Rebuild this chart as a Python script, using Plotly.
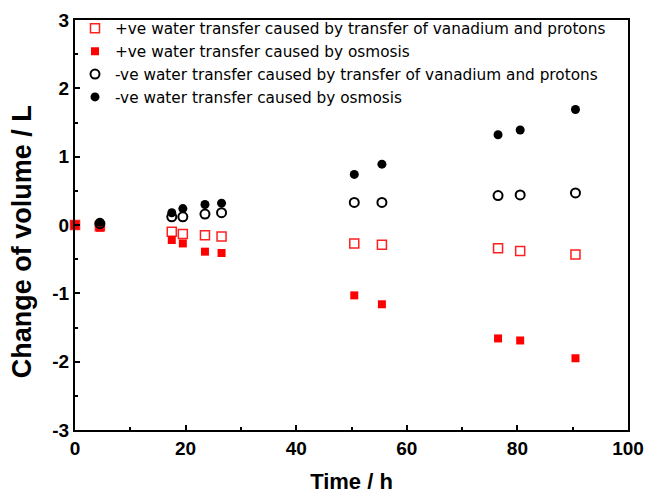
import plotly.graph_objects as go

# Sampling times (h)
t_square = [0, 4.5, 17.5, 19.5, 23.5, 26.5, 50.5, 55.5, 76.5, 80.5, 90.5]
t_circle = [4.5, 17.5, 19.5, 23.5, 26.5, 50.5, 55.5, 76.5, 80.5, 90.5]

# Change of volume (L)
pos_vanadium = [0, -0.02, -0.10, -0.13, -0.15, -0.17, -0.27, -0.29, -0.34, -0.38, -0.43]
pos_osmosis = [0, -0.04, -0.22, -0.27, -0.39, -0.41, -1.03, -1.16, -1.66, -1.69, -1.95]
neg_vanadium = [0.02, 0.12, 0.12, 0.16, 0.18, 0.33, 0.33, 0.43, 0.44, 0.47]
neg_osmosis = [0.04, 0.18, 0.24, 0.30, 0.32, 0.74, 0.89, 1.32, 1.39, 1.69]

# Axis ticks
x_ticks = [0, 20, 40, 60, 80, 100]
x_labels = ["0", "20", "40", "60", "80", "100"]
y_ticks = [-3, -2, -1, 0, 1, 2, 3]
y_labels = ["-3", "-2", "-1", "0", "1", "2", "3"]

names = [
    "+ve water transfer caused by transfer of vanadium and protons",
    "+ve water transfer caused by osmosis",
    "-ve water transfer caused by transfer of vanadium and protons",
    "-ve water transfer caused by osmosis",
]

fig = go.Figure()
fig.add_trace(go.Scatter(
    x=t_square, y=pos_vanadium, mode="markers", name=names[0], cliponaxis=False,
    marker=dict(symbol="square-open", size=9, color="#ff2020", line=dict(width=1.5, color="#ff2020")),
))
fig.add_trace(go.Scatter(
    x=t_square, y=pos_osmosis, mode="markers", name=names[1], cliponaxis=False,
    marker=dict(symbol="square", size=8, color="#ff0000"),
))
fig.add_trace(go.Scatter(
    x=t_circle, y=neg_vanadium, mode="markers", name=names[2], cliponaxis=False,
    marker=dict(symbol="circle-open", size=9, color="black", line=dict(width=2, color="black")),
))
fig.add_trace(go.Scatter(
    x=t_circle, y=neg_osmosis, mode="markers", name=names[3], cliponaxis=False,
    marker=dict(symbol="circle", size=9, color="black"),
))

axis_common = dict(
    showline=True, linecolor="black", linewidth=2, mirror=True,
    ticks="inside", ticklen=5, tickwidth=2, tickcolor="black",
    showgrid=False, zeroline=False, automargin=False,
    tickfont=dict(family="Liberation Sans, Arial", size=19, color="black", weight="bold"),
)

fig.update_layout(
    width=649, height=497,
    margin=dict(l=75, r=21, t=18, b=67),
    paper_bgcolor="white", plot_bgcolor="white",
    font=dict(family="Liberation Sans, Arial", color="black"),
    showlegend=True,
    legend=dict(
        x=0.0, y=1.02, xanchor="left", yanchor="top",
        bgcolor="rgba(0,0,0,0)", borderwidth=0,
        font=dict(family="DejaVu Sans", size=15.3, color="black"),
        tracegroupgap=0,
    ),
    annotations=[dict(
        text="<b>Change of volume / L</b>", textangle=-90,
        xref="paper", yref="paper", x=-0.096, y=0.46,
        xanchor="center", yanchor="middle", showarrow=False,
        font=dict(family="Liberation Sans, Arial", size=27, color="black"),
    )],
)
fig.update_xaxes(
    range=[0, 100], tickvals=x_ticks, ticktext=x_labels,
    minor=dict(ticks="inside", ticklen=3, tickwidth=2, tickcolor="black", dtick=10, tick0=0),
    title=dict(text="Time / h", standoff=16,
               font=dict(family="Liberation Sans, Arial", size=22, color="black", weight="bold")),
    **axis_common,
)
fig.update_yaxes(
    range=[-3, 3], tickvals=y_ticks, ticktext=y_labels,
    minor=dict(ticks="inside", ticklen=3, tickwidth=2, tickcolor="black", dtick=0.5, tick0=0),
    **axis_common,
)

fig.write_html("out.html")
